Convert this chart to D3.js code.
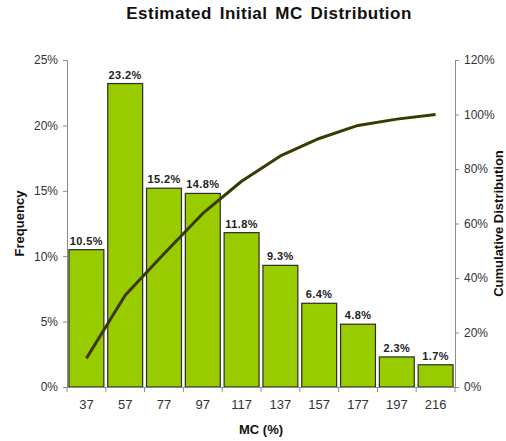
<!DOCTYPE html>
<html>
<head>
<meta charset="utf-8">
<script src="https://cdn.jsdelivr.net/npm/d3@7"></script>
<style>
  html, body { margin: 0; padding: 0; background: #fff; }
  svg { display: block; font-family: "Liberation Sans", Arial, sans-serif; }
</style>
</head>
<body>
<svg id="chart" width="506" height="441"></svg>
<script>
// MC bins and their share of samples
const categories = ["37", "57", "77", "97", "117", "137", "157", "177", "197", "216"];
const frequency = [10.5, 23.2, 15.2, 14.8, 11.8, 9.3, 6.4, 4.8, 2.3, 1.7];
const cumulative = [10.5, 33.7, 48.9, 63.7, 75.5, 84.8, 91.2, 96.0, 98.3, 100.0];
const freqTicks = [0, 5, 10, 15, 20, 25];
const cumTicks = [0, 20, 40, 60, 80, 100, 120];

const svg = d3.select("#chart");
const margin = { left: 67, right: 51, top: 60, bottom: 54 };
const W = 506, H = 441;
const x0 = margin.left, x1 = W - margin.right;
const y0 = H - margin.bottom, y1 = margin.top;

const x = d3.scaleBand().domain(categories).range([x0, x1]).paddingInner(0.1).paddingOuter(0.05);
const yL = d3.scaleLinear().domain([0, 25]).range([y0, y1]);
const yR = d3.scaleLinear().domain([0, 120]).range([y0, y1]);

const axisColor = "#8c8c8c";
const textColor = "#333";

// Title
svg.append("text")
  .attr("x", 269).attr("y", 19)
  .attr("text-anchor", "middle")
  .attr("font-size", 17).attr("font-weight", "bold")
  .attr("letter-spacing", 0.5).attr("word-spacing", 2.5)
  .attr("fill", "#111")
  .text("Estimated Initial MC Distribution");

// Bars
svg.append("g").selectAll("rect").data(frequency).join("rect")
  .attr("x", (d, i) => x(categories[i]))
  .attr("y", d => yL(d))
  .attr("width", x.bandwidth())
  .attr("height", d => yL(0) - yL(d))
  .attr("fill", "#99cc00")
  .attr("stroke", "#2b2b2b")
  .attr("stroke-width", 1.2);

// Bar value labels
svg.append("g").selectAll("text").data(frequency).join("text")
  .attr("x", (d, i) => x(categories[i]) + x.bandwidth() / 2)
  .attr("y", d => yL(d) - 5)
  .attr("text-anchor", "middle")
  .attr("font-size", 11).attr("font-weight", "bold")
  .attr("letter-spacing", 0.4)
  .attr("fill", "#222")
  .text(d => d.toFixed(1) + "%");

// Cumulative line
const line = d3.line()
  .x((d, i) => x(categories[i]) + x.bandwidth() / 2)
  .y(d => yR(d));
svg.append("path")
  .datum(cumulative)
  .attr("d", line)
  .attr("fill", "none")
  .attr("stroke", "#3a3a00")
  .attr("stroke-width", 3)
  .attr("stroke-linejoin", "round");

// Left axis
const gL = svg.append("g").attr("transform", `translate(${x0},0)`)
  .call(d3.axisLeft(yL).tickValues(freqTicks).tickFormat(d => d + "%").tickSize(4).tickPadding(5));
// Right axis
const gR = svg.append("g").attr("transform", `translate(${x1},0)`)
  .call(d3.axisRight(yR).tickValues(cumTicks).tickFormat(d => d + "%").tickSize(4).tickPadding(5));
// Bottom axis
const gB = svg.append("g").attr("transform", `translate(0,${y0})`)
  .call(d3.axisBottom(x).tickSize(0).tickPadding(13));

// Bottom tick marks at bin boundaries
const step = x.step();
const bounds = d3.range(categories.length + 1).map(i =>
  i === 0 ? x0 : (i === categories.length ? x1 : x(categories[i]) - step * x.paddingInner() / 2));
svg.append("g").selectAll("line").data(bounds).join("line")
  .attr("x1", d => d).attr("x2", d => d)
  .attr("y1", y0).attr("y2", y0 + 5)
  .attr("stroke", axisColor);

[gL, gR, gB].forEach(g => {
  g.select(".domain").attr("stroke", axisColor);
  g.selectAll(".tick line").attr("stroke", axisColor);
  g.selectAll(".tick text").attr("fill", textColor).attr("font-size", 12)
    .attr("font-family", "Liberation Sans, Arial, sans-serif");
});
gB.selectAll(".tick text").attr("font-size", 13);

// Axis titles
svg.append("text")
  .attr("transform", `translate(24,${(y0 + y1) / 2}) rotate(-90)`)
  .attr("text-anchor", "middle")
  .attr("font-size", 13).attr("font-weight", "bold").attr("fill", "#111")
  .text("Frequency");
svg.append("text")
  .attr("transform", `translate(${(x0 + x1) / 2},${H - 7})`)
  .attr("text-anchor", "middle")
  .attr("font-size", 13).attr("font-weight", "bold").attr("fill", "#111")
  .text("MC (%)");
svg.append("text")
  .attr("transform", `translate(502.5,${(y0 + y1) / 2}) rotate(-90)`)
  .attr("text-anchor", "middle")
  .attr("font-size", 13).attr("font-weight", "bold").attr("fill", "#111")
  .text("Cumulative Distribution");
</script>
</body>
</html>
